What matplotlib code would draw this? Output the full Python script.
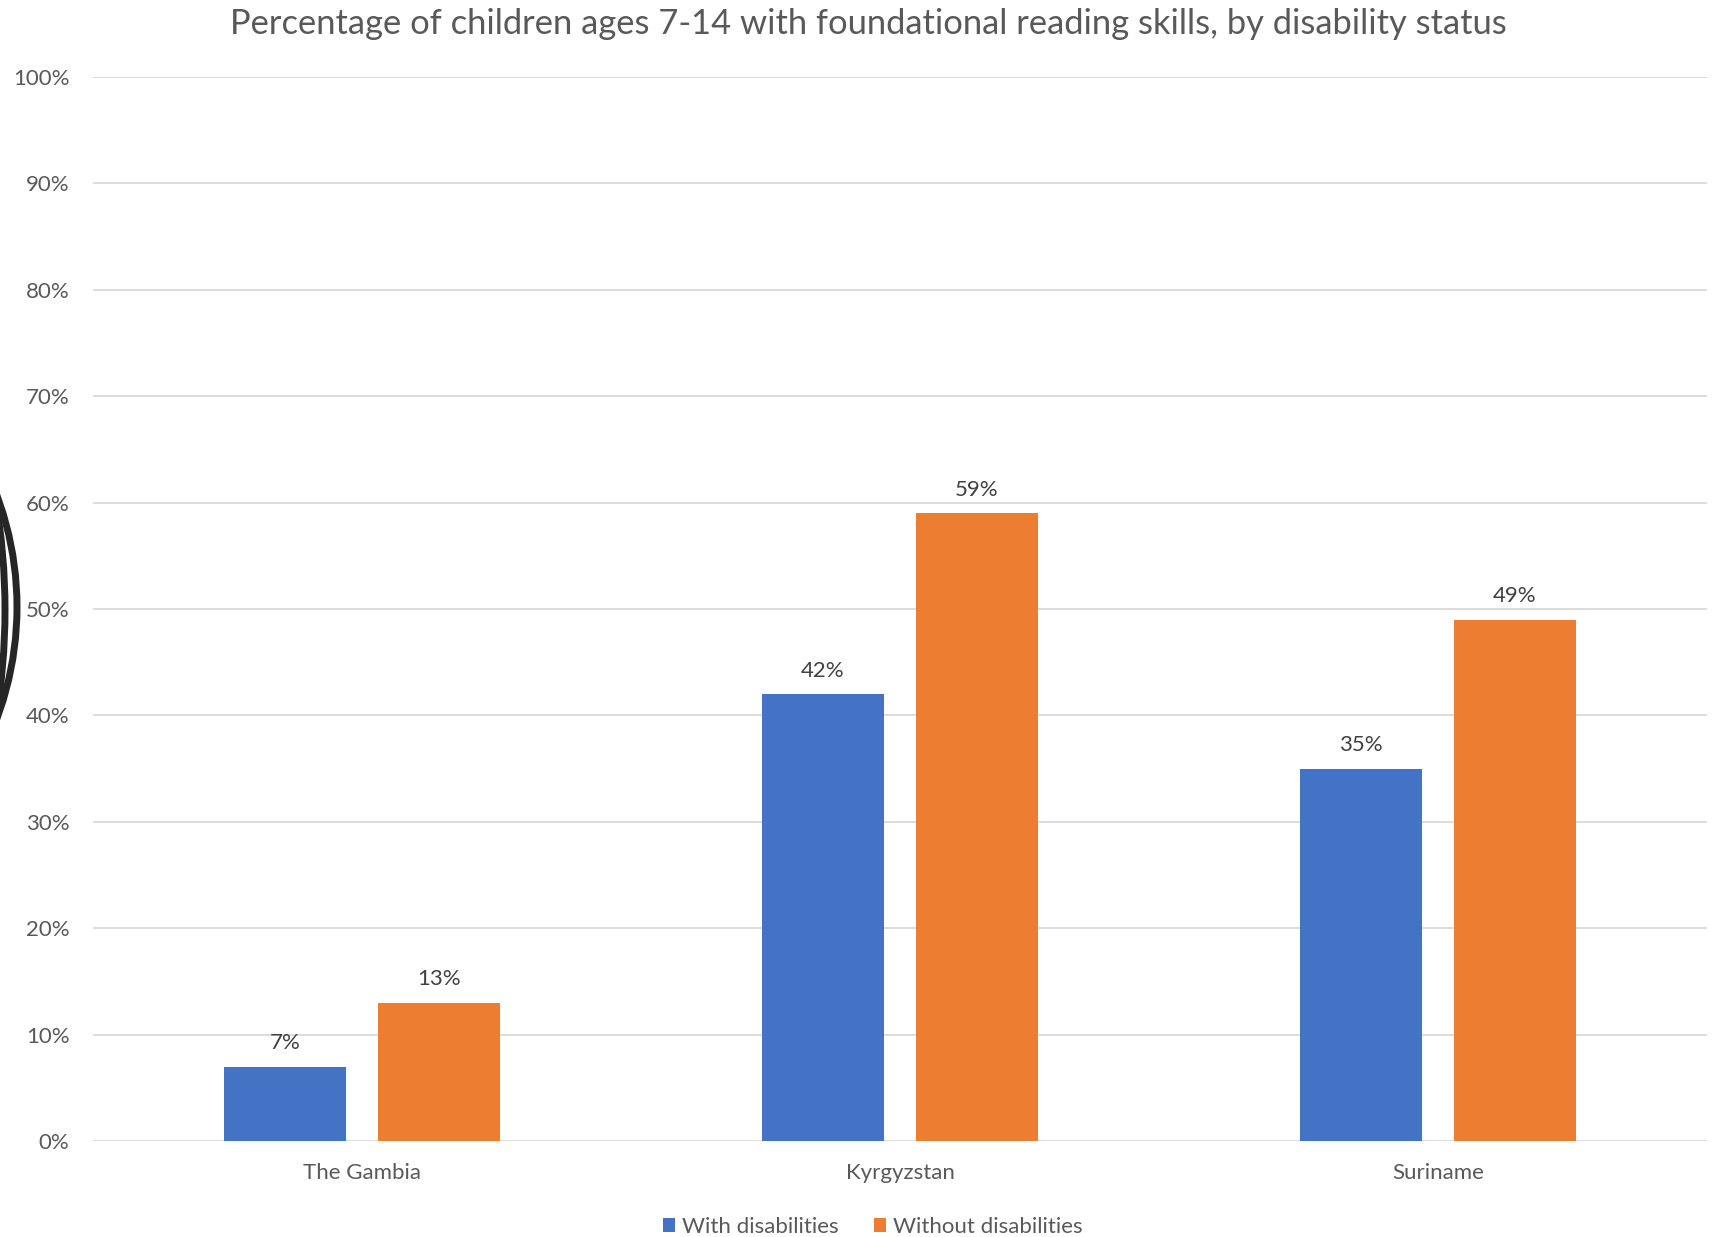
import matplotlib
matplotlib.use("Agg")
import matplotlib.pyplot as plt
import numpy as np
from matplotlib.patches import Arc, Patch

# Data
countries = ["The Gambia", "Kyrgyzstan", "Suriname"]
with_disabilities = [7, 42, 35]
without_disabilities = [13, 59, 49]
series_names = ["With disabilities", "Without disabilities"]
y_ticks = [0, 10, 20, 30, 40, 50, 60, 70, 80, 90, 100]

BLUE = "#4472C4"
ORANGE = "#ED7D31"
GRID = "#D9D9D9"
TEXT = "#595959"
LABEL = "#404040"

plt.rcParams["font.family"] = ["Lato", "DejaVu Sans"]

W, H = 1719, 1237
fig = plt.figure(figsize=(W / 100, H / 100), dpi=100)
ax = fig.add_axes([93 / W, 1 - 1141 / H, (1707 - 93) / W, (1141 - 77) / H])

x = np.arange(len(countries))
bw = 0.226
off = 0.143
b1 = ax.bar(x - off, with_disabilities, bw, color=BLUE, zorder=3)
b2 = ax.bar(x + off, without_disabilities, bw, color=ORANGE, zorder=3)

for bars, vals in ((b1, with_disabilities), (b2, without_disabilities)):
    for rect, v in zip(bars, vals):
        ax.annotate(f"{v}%", (rect.get_x() + rect.get_width() / 2, v),
                    xytext=(0, 17), textcoords="offset points",
                    ha="center", va="center", fontsize=16, color=LABEL)

ax.set_xlim(-0.5, len(countries) - 0.5)
ax.set_ylim(0, 100)
ax.set_yticks(y_ticks)
ax.set_yticklabels([f"{t}%" for t in y_ticks])
ax.set_xticks(x)
ax.set_xticklabels(countries)
ax.tick_params(axis="y", length=0, pad=17, labelsize=16, labelcolor=TEXT)
ax.tick_params(axis="x", length=0, pad=16, labelsize=16, labelcolor=TEXT)
ax.grid(axis="y", color=GRID, linewidth=1.3, zorder=0)
for s in ax.spines.values():
    s.set_visible(False)

fig.text(0.505, 1 - 24 / H, "Percentage of children ages 7-14 with foundational reading skills, by disability status",
         ha="center", va="center", fontsize=24.8, color=TEXT)

handles = [Patch(facecolor=BLUE), Patch(facecolor=ORANGE)]
fig.legend(handles, series_names, loc="center", bbox_to_anchor=(0.5076, 1 - 1227 / H),
           ncol=2, frameon=False, fontsize=16, labelcolor=TEXT,
           handlelength=0.55, handleheight=0.55, handletextpad=0.3, columnspacing=1.6)

# Dark double arc along the left edge
fig.add_artist(Arc((-303, H - 607), 2 * 320, 2 * 320, theta1=-30, theta2=30,
                   color="#262626", linewidth=5, transform=None))
fig.add_artist(Arc((-640, H - 610), 2 * 645, 2 * 645, theta1=-10, theta2=10,
                   color="#262626", linewidth=5, transform=None))

fig.savefig("out.png", dpi=100)
